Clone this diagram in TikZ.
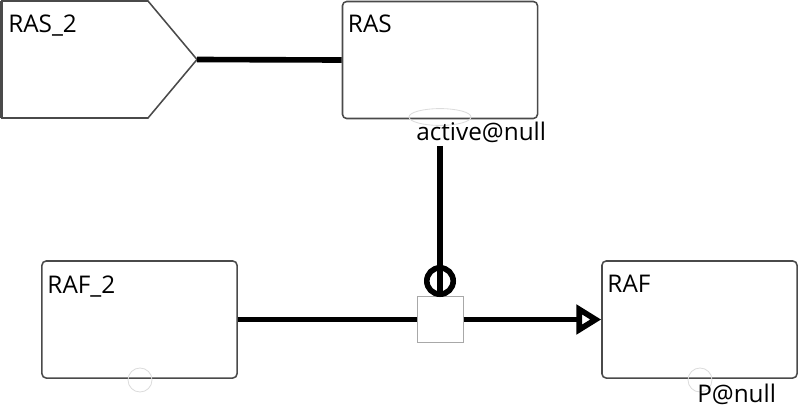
\documentclass[tikz,border=0pt]{standalone}
\usepackage{fontspec}
\setmainfont{Open Sans}
\usepackage{tikz}
\usetikzlibrary{arrows.meta, positioning, calc, shapes.geometric}
\definecolor{edge}{HTML}{4A4A4A}
\definecolor{port}{HTML}{DCDCDC}
\definecolor{gatecol}{HTML}{A8A8A8}

\begin{document}
\begin{tikzpicture}[x=0.025cm, y=-0.025cm,
  box/.style={draw=edge, line width=1.1pt, rounded corners=3pt, minimum width=4.875cm, minimum height=2.925cm, inner sep=0pt},
  title/.style={font=\fontsize{17.3}{19}\selectfont, inner sep=0pt, anchor=north west},
  note/.style={font=\fontsize{17.3}{19}\selectfont, inner sep=0pt, anchor=base west},
  ring/.style={draw=port, line width=0.6pt, circle, minimum size=0.6cm, inner sep=0pt},
  link/.style={line width=4pt},
  >={Triangle[open, length=0.62cm, width=0.72cm]}
]
\useasboundingbox (0,0) rectangle (800,416);

% source shape
\draw[draw=edge, line width=1.1pt] (2,1) -- (148,1) -- (197,59.5) -- (148,118) -- (2,118) -- cycle;
\draw[draw=edge, line width=2.5pt] (1.5,1) -- (1.5,118);
\coordinate (ras2tip) at (197,59.5);
\node[title] (ras2name) at (8,15) {RAS\_2};

% boxes
\node[box] (ras)  at (440,60)      {};
\node[box] (raf2) at (139.5,319.5) {};
\node[box] (raf)  at (699.5,319.5) {};
\node[title] (rasname)  at ($(ras.north west)+(6,14)$)  {RAS};
\node[title] (raf2name) at ($(raf2.north west)+(6,15)$) {RAF\_2};
\node[title] (rafname)  at ($(raf.north west)+(6,15)$)  {RAF};

% ports
\node[draw=port, line width=0.6pt, ellipse, minimum width=1.55cm, minimum height=0.42cm, inner sep=0pt] (rasport) at (440,117) {};
\node[ring] (raf2port) at (140,380) {};
\node[ring] (rafport)  at (700,380) {};
\node[note] (rasnote) at (416,140) {active@null};
\node[note] (rafnote) at (697,402) {P@null};

% gate
\node[draw=gatecol, line width=0.7pt, fill=white, minimum size=1.15cm, inner sep=0pt] (gate) at (440,319.5) {};
\node[draw, circle, line width=4pt, minimum size=0.66cm, inner sep=0pt] (inhib) at (440,281) {};

\draw[link] (ras2tip) -- (ras.west);
\draw[link] ([yshift=-0.5cm]rasport.south) -- (gate.north);
\draw[link] (raf2.east) -- (gate.west);
\draw[link, ->] (gate.east) -- (raf.west);
\end{tikzpicture}
\end{document}
